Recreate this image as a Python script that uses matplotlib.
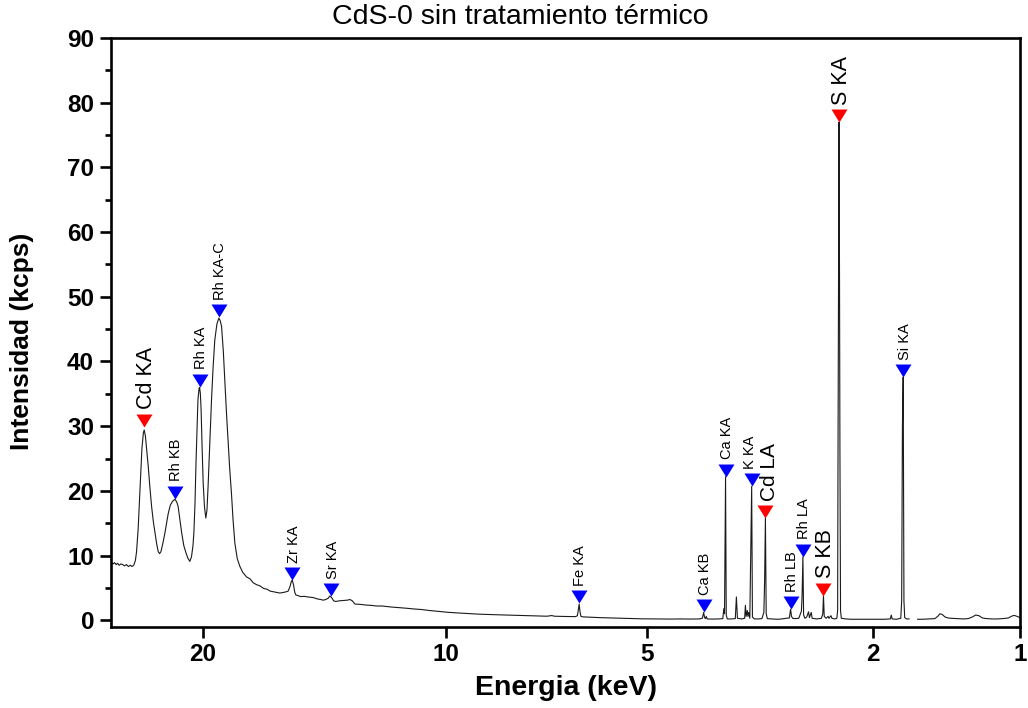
import numpy as np
import matplotlib
matplotlib.use("Agg")
import matplotlib.pyplot as plt
from matplotlib.path import Path
from matplotlib.ticker import FixedLocator, NullLocator, MultipleLocator

plt.rcParams['font.family'] = ['Liberation Sans', 'DejaVu Sans']

# ---------------- data ----------------
energy = [25.40, 25.32, 25.24, 25.15, 25.05, 24.96, 24.86, 24.75, 24.64, 24.52, 24.40, 24.28,
          24.16, 24.06, 23.95, 23.85, 23.78, 23.68, 23.57, 23.45, 23.36, 23.31, 23.24, 23.15,
          23.07, 22.97, 22.87, 22.77, 22.67, 22.57, 22.48, 22.40, 22.32, 22.20, 22.09, 21.98,
          21.90, 21.78, 21.65, 21.52, 21.42, 21.34, 21.25, 21.14, 21.02, 20.90, 20.80, 20.69,
          20.60, 20.52, 20.47, 20.41, 20.36, 20.30, 20.25, 20.19, 20.16, 20.12, 20.08, 20.03,
          19.97, 19.90, 19.83, 19.77, 19.71, 19.62, 19.53, 19.45, 19.36, 19.25, 19.15, 19.08,
          19.01, 18.92, 18.84, 18.76, 18.68, 18.60, 18.51, 18.43, 18.34, 18.22, 18.09, 17.95,
          17.77, 17.60, 17.45, 17.29, 17.12, 16.95, 16.80, 16.65, 16.51, 16.36, 16.21, 16.05,
          15.92, 15.84, 15.76, 15.70, 15.66, 15.60, 15.55, 15.50, 15.40, 15.30, 15.15, 15.00,
          14.88, 14.76, 14.60, 14.45, 14.35, 14.25, 14.15, 14.08, 14.01, 13.93, 13.85, 13.70,
          13.55, 13.40, 13.29, 13.20, 13.10, 12.90, 12.70, 12.50, 12.30, 12.10, 11.80, 11.50,
          11.25, 11.03, 10.75, 10.50, 10.20, 9.96, 9.60, 9.25, 8.94, 8.60, 8.30, 8.00,
          7.70, 7.40, 7.14, 7.02, 6.95, 6.70, 6.46, 6.42, 6.40, 6.38, 6.36, 6.34,
          6.30, 6.10, 5.92, 5.70, 5.50, 5.32, 5.10, 4.90, 4.76, 4.55, 4.40, 4.25,
          4.10, 4.05, 4.03, 4.015, 4.00, 3.99, 3.975, 3.90, 3.80, 3.74, 3.725, 3.715,
          3.70, 3.69, 3.675, 3.62, 3.56, 3.545, 3.53, 3.47, 3.43, 3.42, 3.41, 3.395,
          3.385, 3.375, 3.36, 3.345, 3.335, 3.325, 3.30, 3.25, 3.20, 3.175, 3.165, 3.155,
          3.145, 3.13, 3.08, 3.00, 2.95, 2.90, 2.86, 2.845, 2.835, 2.82, 2.80, 2.75,
          2.72, 2.712, 2.703, 2.695, 2.68, 2.66, 2.64, 2.63, 2.61, 2.60, 2.55, 2.50,
          2.485, 2.478, 2.47, 2.45, 2.43, 2.42, 2.40, 2.39, 2.36, 2.340, 2.332, 2.328,
          2.318, 2.313, 2.309, 2.303, 2.295, 2.25, 2.20, 2.10, 2.00, 1.95, 1.90, 1.85,
          1.842, 1.835, 1.80, 1.765, 1.758, 1.752, 1.746, 1.740, 1.734, 1.72, 1.70, 1.67,
          1.635, 1.60, 1.55, 1.51, 1.49, 1.475, 1.46, 1.44, 1.42, 1.40, 1.36, 1.32,
          1.29, 1.265, 1.245, 1.225, 1.205, 1.18, 1.15, 1.12, 1.09, 1.06, 1.045, 1.03,
          1.015, 1.00]
intensity = [8.8, 8.9, 8.7, 8.9, 8.6, 8.8, 8.5, 8.7, 8.6, 8.4, 8.6, 8.3,
             8.5, 8.3, 8.5, 9.2, 10.5, 14.0, 20.0, 26.5, 29.0, 29.4, 28.5, 26.0,
             23.8, 20.5, 17.6, 15.3, 13.5, 11.8, 10.6, 10.3, 10.6, 12.0, 13.5, 15.2,
             16.5, 17.8, 18.4, 18.7, 18.3, 17.6, 15.8, 13.5, 11.5, 10.4, 9.6, 9.1,
             9.8, 11.5, 13.5, 18.0, 23.8, 29.5, 34.1, 35.8, 36.0, 35.0, 32.5, 27.0,
             21.2, 17.5, 15.8, 17.0, 20.7, 27.5, 34.1, 39.0, 43.3, 45.8, 46.7, 46.3,
             45.4, 41.5, 36.6, 32.0, 27.9, 23.5, 19.6, 15.5, 11.9, 9.5, 8.3, 7.4,
             6.7, 6.4, 5.8, 5.5, 5.3, 4.9, 4.8, 4.5, 4.4, 4.3, 4.2, 4.3,
             4.4, 4.5, 5.2, 6.0, 6.2, 5.4, 4.3, 3.9, 3.8, 3.65, 3.7, 3.6,
             3.55, 3.5, 3.3, 3.2, 3.1, 3.2, 3.4, 3.75, 3.5, 3.0, 2.9, 3.0,
             3.05, 3.1, 3.2, 3.0, 2.5, 2.45, 2.35, 2.3, 2.2, 2.2, 2.05, 1.95,
             1.85, 1.75, 1.65, 1.5, 1.35, 1.24, 1.12, 1.02, 0.93, 0.88, 0.82, 0.77,
             0.73, 0.66, 0.62, 0.72, 0.62, 0.58, 0.56, 0.7, 1.5, 2.5, 1.3, 0.6,
             0.52, 0.45, 0.4, 0.35, 0.3, 0.25, 0.22, 0.2, 0.2, 0.18, 0.2, 0.18,
             0.2, 0.3, 1.2, 0.4, 0.25, 0.6, 0.2, 0.18, 0.2, 0.25, 1.8, 1.0,
             22.2, 0.8, 0.2, 0.2, 0.25, 3.6, 0.3, 0.2, 0.3, 2.3, 0.6, 1.5,
             0.6, 1.2, 0.3, 12.9, 20.7, 0.5, 0.2, 0.2, 0.25, 1.2, 6.2, 15.8,
             1.0, 0.25, 0.2, 0.15, 0.2, 0.3, 0.35, 1.7, 0.6, 0.3, 0.25, 0.3,
             1.4, 3.9, 9.8, 0.8, 0.3, 0.5, 1.3, 0.4, 1.2, 0.3, 0.2, 0.3,
             1.0, 3.8, 0.6, 0.3, 0.6, 0.3, 0.7, 0.3, 0.2, 0.3, 1.5, 26.2,
             77.0, 52.5, 26.2, 1.5, 0.3, 0.2, 0.15, 0.15, 0.15, 0.15, 0.15, 0.2,
             0.8, 0.2, 0.15, 0.3, 3.0, 29.9, 37.6, 3.0, 0.4, 0.2, 0.2, np.nan,
             0.15, 0.15, 0.2, 0.25, 0.6, 1.0, 0.9, 0.5, 0.35, 0.3, 0.25, 0.2,
             0.25, 0.5, 0.8, 0.7, 0.35, 0.25, 0.2, 0.2, 0.25, 0.35, 0.6, 0.75,
             0.6, 0.4]

peak_labels = ["Cd KA", "Rh KB", "Rh KA", "Rh KA-C", "Zr KA", "Sr KA", "Fe KA", "Ca KB",
               "Ca KA", "K KA", "Cd LA", "Rh LB", "Rh LA", "S KB", "S KA", "Si KA"]
peak_energy = [23.31, 21.52, 20.16, 19.15, 15.66, 14.02, 6.38, 4.03,
               3.70, 3.335, 3.155, 2.845, 2.703, 2.478, 2.318, 1.745]
peak_height = [29.9, 18.8, 36.1, 46.8, 6.2, 3.7, 2.6, 1.2,
               22.2, 20.7, 15.8, 1.7, 9.8, 3.8, 77.0, 37.6]
peak_is_sample = [True, False, False, False, False, False, False, False,
                  False, False, True, False, False, True, True, False]

x_ticks = [20, 10, 5, 2, 1]
y_ticks = [0, 10, 20, 30, 40, 50, 60, 70, 80, 90]

# ---------------- energy axis scale (instrument axis, ~E^0.2) ----------------
_tick_e = np.array([1.0, 2.0, 5.0, 10.0, 20.0])
_tick_u = np.array([0.0, 147.3, 373.3, 574.3, 817.3])
_k = _tick_e ** 0.2
_k_ext = np.concatenate([[0.01 ** 0.2], _k, [100 ** 0.2]])
_u_ext = np.concatenate([[_tick_u[0] - (_k[0] - 0.01 ** 0.2) * 990.6], _tick_u,
                         [_tick_u[-1] + (100 ** 0.2 - _k[-1]) * 1031.0]])


def fwd(e):
    e = np.clip(np.asarray(e, dtype=float), 1e-6, None)
    return np.interp(e ** 0.2, _k_ext, _u_ext)


def inv(u):
    return np.interp(np.asarray(u, dtype=float), _u_ext, _k_ext) ** 5


# ---------------- figure ----------------
W, H = 1028, 708
fig = plt.figure(figsize=(W / 100, H / 100), dpi=100)
ax = fig.add_axes([110.7 / W, 1 - 626.7 / H, (1020 - 110.7) / W, (626.7 - 38) / H])

ax.set_xscale('function', functions=(fwd, inv))
ax.plot(energy, intensity, color='#1a1a1a', lw=0.8)
ax.set_xlim(25.4, 1.0)
ax.set_ylim(-1, 90)

ax.xaxis.set_major_locator(FixedLocator(x_ticks))
ax.xaxis.set_minor_locator(NullLocator())
ax.set_xticklabels([str(t) for t in x_ticks])
ax.yaxis.set_major_locator(FixedLocator(y_ticks))
ax.yaxis.set_minor_locator(MultipleLocator(5))
ax.set_yticklabels([str(t) for t in y_ticks])

for s in ax.spines.values():
    s.set_linewidth(1.9)
ax.tick_params(axis='both', which='major', direction='out', length=8, width=1.9,
               labelsize=17.5, pad=4)
ax.tick_params(axis='y', which='minor', direction='out', length=4.5, width=1.9)
ax.tick_params(top=False, right=False)
for lab in ax.get_xticklabels() + ax.get_yticklabels():
    lab.set_fontweight('bold')

# triangle marker with its tip at the data point
tri = Path([(-1, 1.625), (1, 1.625), (0, 0), (-1, 1.625)],
           [Path.MOVETO, Path.LINETO, Path.LINETO, Path.CLOSEPOLY])
for lab, e, h, samp in zip(peak_labels, peak_energy, peak_height, peak_is_sample):
    col = '#ff0000' if samp else '#0000ff'
    ax.plot([e], [h], linestyle='none', marker=tri, ms=18.7, mfc=col, mec=col, mew=0,
            clip_on=False, zorder=4)
    dx = 1.6 if samp else 0.9
    if lab == "K KA":
        dx = -0.9
    elif lab == "Cd LA":
        dx = 2.6
    ax.annotate(lab, (e, h), xytext=(dx, 12.5), textcoords='offset points',
                rotation=90, ha='center', va='bottom',
                fontsize=(15.0 if lab == "Cd LA" else 15.5) if samp else 10.5,
                color='black')

fig.text(22.5 / W, 1 - 341 / H, 'Intensidad (kcps)', rotation=90, ha='center', va='center',
         fontsize=19, fontweight='bold')
fig.text(566 / W, 1 - 688 / H, 'Energia (keV)', ha='center', va='center',
         fontsize=20.5, fontweight='bold')
fig.text(520 / W, 1 - 17 / H, 'CdS-0 sin tratamiento térmico', ha='center', va='center',
         fontsize=20.5)

fig.savefig('out.png', dpi=100)
